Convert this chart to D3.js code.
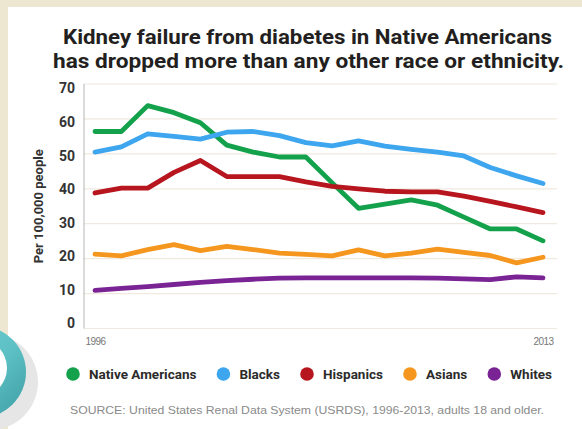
<!DOCTYPE html>
<html>
<head>
<meta charset="utf-8">
<script src="https://cdn.jsdelivr.net/npm/d3@7"></script>
<style>
  body { margin: 0; background: #fff; }
  svg { display: block; }
</style>
</head>
<body>
<svg id="chart" width="582" height="429"></svg>
<script>
// values, per 100,000 people, 1996..2013
const years = d3.range(1996, 2014);
const seriesNames = ['Native Americans', 'Blacks', 'Hispanics', 'Asians', 'Whites'];
const nativeAmericans = [56.4, 56.4, 63.8, 61.8, 58.9, 52.5, 50.5, 49.1, 49.1, 41.7, 34.4, 35.6, 36.8, 35.3, 31.9, 28.5, 28.5, 25.1];
const blacks          = [50.5, 52.0, 55.7, 55.0, 54.2, 56.2, 56.4, 55.2, 53.2, 52.3, 53.7, 52.2, 51.3, 50.5, 49.4, 46.1, 43.7, 41.5];
const hispanics       = [38.8, 40.2, 40.2, 44.7, 48.1, 43.5, 43.5, 43.5, 42.0, 40.7, 40.0, 39.3, 39.1, 39.1, 37.9, 36.4, 34.8, 33.2];
const asians          = [21.3, 20.8, 22.6, 24.0, 22.3, 23.5, 22.6, 21.6, 21.2, 20.8, 22.5, 20.8, 21.6, 22.7, 21.8, 20.9, 18.8, 20.4];
const whites          = [10.9, 11.5, 12.0, 12.6, 13.2, 13.7, 14.1, 14.4, 14.5, 14.5, 14.5, 14.5, 14.5, 14.4, 14.2, 14.0, 14.8, 14.5];
const yTicks = [0, 10, 20, 30, 40, 50, 60, 70];
const xTickLabels = ['1996', '2013'];

const seriesValues = [nativeAmericans, blacks, hispanics, asians, whites];
const colors = ['#13a14b', '#3ea6ee', '#b8161f', '#f5961e', '#7a2394'];

const svg = d3.select('#chart');

// background frame
svg.append('rect').attr('width', 582).attr('height', 429).attr('fill', '#fff');
svg.append('rect').attr('x', 0).attr('y', 0).attr('width', 582).attr('height', 7).attr('fill', '#ede7d1');
svg.append('rect').attr('x', 0).attr('y', 0).attr('width', 8).attr('height', 429).attr('fill', '#ede7d1');

const defs = svg.append('defs');
const grad = defs.append('linearGradient').attr('id', 'teal')
  .attr('x1', 0).attr('y1', 0).attr('x2', 1).attr('y2', 1);
grad.append('stop').attr('offset', '0%').attr('stop-color', '#74d2d4');
grad.append('stop').attr('offset', '55%').attr('stop-color', '#5cc0c4');
grad.append('stop').attr('offset', '100%').attr('stop-color', '#3e9ea4');

// decorative ring, bottom left
svg.append('circle').attr('cx', -10).attr('cy', 382).attr('r', 48).attr('fill', '#e6e6e6');
svg.append('circle').attr('cx', -20).attr('cy', 372).attr('r', 46).attr('fill', 'url(#teal)');
svg.append('circle').attr('cx', -22).attr('cy', 368).attr('r', 29).attr('fill', '#fff');

// title
const title = svg.append('g')
  .attr('font-family', 'Roboto, "Liberation Sans", sans-serif')
  .attr('font-weight', 700).attr('font-size', 21).attr('fill', '#231f20');
title.append('text').attr('x', 63).attr('y', 44)
  .attr('textLength', 489).attr('lengthAdjust', 'spacingAndGlyphs')
  .text('Kidney failure from diabetes in Native Americans');
title.append('text').attr('x', 53).attr('y', 68)
  .attr('textLength', 511).attr('lengthAdjust', 'spacingAndGlyphs')
  .text('has dropped more than any other race or ethnicity.');

// scales
const x = d3.scaleLinear().domain([1996, 2013]).range([95, 543]);
const y = d3.scaleLinear().domain([0, 70]).range([328.5, 84]);
const yLab = d3.scaleLinear().domain([0, 70]).range([323.5, 88.5]);

// gridlines
svg.append('g').selectAll('line').data(yTicks).join('line')
  .attr('x1', 84).attr('x2', 557)
  .attr('y1', d => y(d)).attr('y2', d => y(d))
  .attr('stroke', '#f0e9df').attr('stroke-width', 1.2);

// y axis
const yAxis = svg.append('g')
  .attr('transform', 'translate(84,0)')
  .call(d3.axisLeft(yLab).tickValues(yTicks).tickSize(0).tickPadding(9));
yAxis.select('.domain').remove();
yAxis.selectAll('text')
  .attr('font-family', 'Roboto, "Liberation Sans", sans-serif')
  .attr('font-weight', 700).attr('font-size', 14).attr('fill', '#333');
svg.append('line').attr('x1', 84).attr('x2', 84).attr('y1', y(70)).attr('y2', y(0))
  .attr('stroke', '#b5b5b5').attr('stroke-width', 1);

svg.append('text')
  .attr('transform', `translate(43,${(y(0) + y(70)) / 2}) rotate(-90)`)
  .attr('text-anchor', 'middle')
  .attr('font-family', 'Roboto, "Liberation Sans", sans-serif')
  .attr('font-weight', 700).attr('font-size', 13).attr('fill', '#333')
  .text('Per 100,000 people');

// x axis end labels
const xAxis = svg.append('g')
  .attr('transform', 'translate(0,338)')
  .call(d3.axisBottom(x).tickValues([1996, 2013]).tickSize(0).tickPadding(0)
    .tickFormat((d, i) => xTickLabels[i]));
xAxis.select('.domain').remove();
xAxis.selectAll('text')
  .attr('font-family', '"Liberation Sans Narrow", "Liberation Sans", sans-serif')
  .attr('font-size', 10).attr('fill', '#777').attr('letter-spacing', -0.6);

// lines
const line = d3.line()
  .x((d, i) => x(years[i]))
  .y(d => y(d))
  .curve(d3.curveLinear);

svg.append('g').selectAll('path').data(seriesValues).join('path')
  .attr('d', line)
  .attr('fill', 'none')
  .attr('stroke', (d, i) => colors[i])
  .attr('stroke-width', 4.8)
  .attr('stroke-linejoin', 'round')
  .attr('stroke-linecap', 'round');

// legend
const legend = svg.append('g')
  .attr('font-family', 'Roboto, "Liberation Sans", sans-serif')
  .attr('font-weight', 700).attr('font-size', 13.5).attr('fill', '#2b2b2b');
let lx = 73;
seriesNames.forEach((name, i) => {
  legend.append('circle').attr('cx', lx).attr('cy', 374).attr('r', 6.8).attr('fill', colors[i]);
  const t = legend.append('text').attr('x', lx + 16).attr('y', 379).text(name);
  lx += 16 + t.node().getComputedTextLength() + 27;
});

// source
svg.append('text')
  .attr('x', 70).attr('y', 414)
  .attr('font-family', '"Liberation Sans Narrow", "Liberation Sans", sans-serif')
  .attr('font-size', 11.5).attr('fill', '#8a8a8a')
  .attr('textLength', 474).attr('lengthAdjust', 'spacingAndGlyphs')
  .text('SOURCE: United States Renal Data System (USRDS), 1996-2013, adults 18 and older.');
</script>
</body>
</html>
